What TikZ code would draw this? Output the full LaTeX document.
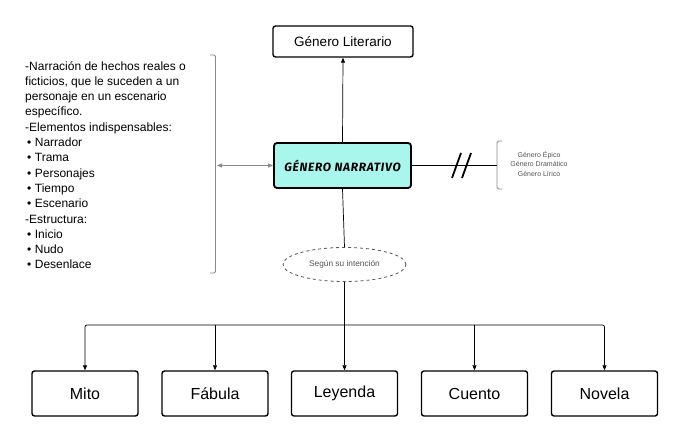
\documentclass[tikz,border=0pt]{standalone}
\usepackage{fontspec}
\setmainfont{Liberation Sans}
\newfontfamily\handfont[LetterSpace=6]{Fira Sans}
\usetikzlibrary{arrows.meta,shapes.geometric}
\definecolor{narr}{HTML}{A9F6EC}
\definecolor{grayline}{HTML}{8A8A8A}
\definecolor{graytext}{HTML}{555555}
\tikzset{
  box/.style={draw=black, line width=1.4pt, rounded corners=2.5pt, minimum width=106pt, minimum height=45pt, inner sep=0pt, font=\fontsize{16}{18}\selectfont},
  topbox/.style={draw=black, line width=1.4pt, rounded corners=2.5pt, minimum width=140pt, minimum height=31pt, inner sep=0pt, font=\fontsize{13.5}{15}\selectfont},
  narrbox/.style={draw=black, line width=1.8pt, fill=narr, rounded corners=3pt, minimum width=137pt, minimum height=45pt, inner sep=0pt},
  conn/.style={draw=black, line width=0.7pt},
  arr/.style={conn, -{Triangle[length=5pt,width=4pt]}},
  grayarr/.style={draw=grayline, line width=0.8pt, {Triangle[length=5pt,width=4pt]}-{Triangle[length=5pt,width=4pt]}},
  brack/.style={draw=grayline, line width=0.9pt, rounded corners=1.5pt},
}
\begin{document}
\begin{tikzpicture}[x=1pt,y=-1pt]
\useasboundingbox (0,0) rectangle (684,443);
\fill[white] (0,0) rectangle (684,443);

% top box
\node[topbox] (lit) at (343,41.5) {Género Literario};
% central box
\node[narrbox] (narr) at (342.5,165.5) {\handfont\bfseries\itshape\fontsize{12}{13}\selectfont GÉNERO NARRATIVO};
\draw[arr] (narr.north) -- (lit.south);

% left text
\node[anchor=north west, inner sep=0pt, align=left, font=\fontsize{12}{15.3}\selectfont] (desc) at (25,61) {%
-Narración de hechos reales o\\
ficticios, que le suceden a un\\
personaje en un escenario\\
específico.\\
-Elementos indispensables:\\
\hspace{2pt}•\hspace{3.5pt}Narrador\\
\hspace{2pt}•\hspace{3.5pt}Trama\\
\hspace{2pt}•\hspace{3.5pt}Personajes\\
\hspace{2pt}•\hspace{3.5pt}Tiempo\\
\hspace{2pt}•\hspace{3.5pt}Escenario\\
-Estructura:\\
\hspace{2pt}•\hspace{3.5pt}Inicio\\
\hspace{2pt}•\hspace{3.5pt}Nudo\\
\hspace{2pt}•\hspace{3.5pt}Desenlace};

% left bracket
\draw[brack] (210,55) -- (215.5,55) -- (215.5,273) -- (210,273);
\draw[grayarr] (217,165.5) -- (narr.west);

% right side
\node[align=center, inner sep=0pt, text=graytext, font=\fontsize{7}{9.5}\selectfont] (genres) at (539,164) {Género Épico\\Género Dramático\\Género Lírico};
\coordinate (rbr) at (497,165.5);
\draw[brack] (502,141) -- (497,141) -- (497,189) -- (502,189);
\draw[conn] (narr.east) -- (rbr);
\draw[black, line width=1.8pt] (452,178) -- (461,153);
\draw[black, line width=1.8pt] (462,178) -- (471,153);

% ellipse
\node[ellipse, draw=graytext, dashed, line width=0.8pt, minimum width=123pt, minimum height=34pt, inner sep=0pt, text=graytext, font=\fontsize{8.3}{10}\selectfont] (int) at (344.5,264.5) {Según su intención};
\draw[conn] (narr.south) -- (int.north);

% bottom boxes
\node[box] (mito) at (85,393.5) {Mito};
\node[box] (fab) at (215,393.5) {Fábula};
\node[box] (ley) at (344.5,393.5) {Leyenda};
\node[box] (cue) at (474.5,393.5) {Cuento};
\node[box] (nov) at (604.5,393.5) {Novela};

\coordinate (bus) at (344.5,325);
\draw[conn] (int.south) -- (bus);
\draw[arr, rounded corners=2pt] (bus) -| (mito.north);
\draw[arr] (bus -| fab.north) -- (fab.north);
\draw[arr] (bus) -- (ley.north);
\draw[arr] (bus -| cue.north) -- (cue.north);
\draw[arr, rounded corners=2pt] (bus) -| (nov.north);
\end{tikzpicture}
\end{document}
